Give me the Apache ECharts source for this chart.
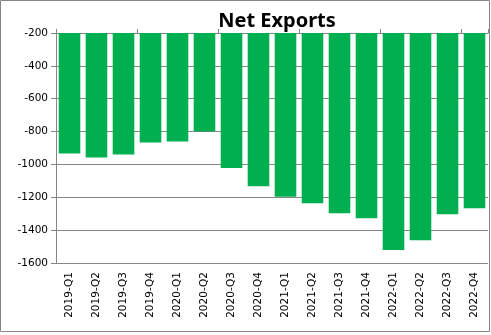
<!DOCTYPE html>
<html><head><meta charset="utf-8">
<script src="https://cdn.jsdelivr.net/npm/echarts@6/dist/echarts.min.js"></script>
<style>html,body{margin:0;padding:0;background:#fff}#c{width:491px;height:335px}</style>
</head><body><div id="c"></div>
<script>
var categories = ["2019-Q1","2019-Q2","2019-Q3","2019-Q4","2020-Q1","2020-Q2","2020-Q3","2020-Q4","2021-Q1","2021-Q2","2021-Q3","2021-Q4","2022-Q1","2022-Q2","2022-Q3","2022-Q4"];
var netExports = [-933,-958,-939,-867,-861,-800,-1022,-1133,-1196,-1236,-1297,-1327,-1521,-1461,-1303,-1267];
var yTicks = {min:-1600, max:-200, step:200};
var titleText = "Net Exports";

var chart = echarts.init(document.getElementById('c'), null, {renderer:'canvas'});
var axisGrey = '#868686';
chart.setOption({
  animation:false,
  backgroundColor:'#fff',
  title:{text:titleText, left:272, textAlign:'center', top:6,
    textStyle:{fontFamily:'Noto Sans', fontWeight:'bold', fontSize:20, color:'#000'}},
  graphic:[{type:'rect', shape:{x:0.5,y:0.5,width:489,height:331}, style:{fill:'none', stroke:axisGrey, lineWidth:1}, silent:true}],
  grid:{left:56, top:33, right:3, bottom:72, containLabel:false},
  xAxis:[{
    type:'category', data:categories, position:'bottom',
    axisLine:{show:false}, axisTick:{show:false},
    axisLabel:{rotate:90, interval:0, margin:9, fontFamily:'DejaVu Sans', fontSize:10.5, color:'#000'}
  },{
    type:'category', data:categories, position:'top',
    axisLine:{show:true, lineStyle:{color:axisGrey, width:1}},
    axisTick:{show:true, length:4, lineStyle:{color:axisGrey}},
    axisLabel:{show:false}
  }],
  yAxis:{type:'value', min:yTicks.min, max:yTicks.max, interval:yTicks.step,
    axisLine:{show:true, lineStyle:{color:axisGrey}},
    axisTick:{show:true, length:5, lineStyle:{color:axisGrey}},
    axisLabel:{fontFamily:'DejaVu Sans', fontSize:10.5, color:'#000', margin:8,
      formatter:function(v){return String(v);}},
    splitLine:{show:true, lineStyle:{color:axisGrey, width:1}}
  },
  series:[{type:'bar', data:netExports, xAxisIndex:0, barWidth:'80%',
    itemStyle:{color:'#00B050'}}]
});
</script></body></html>
